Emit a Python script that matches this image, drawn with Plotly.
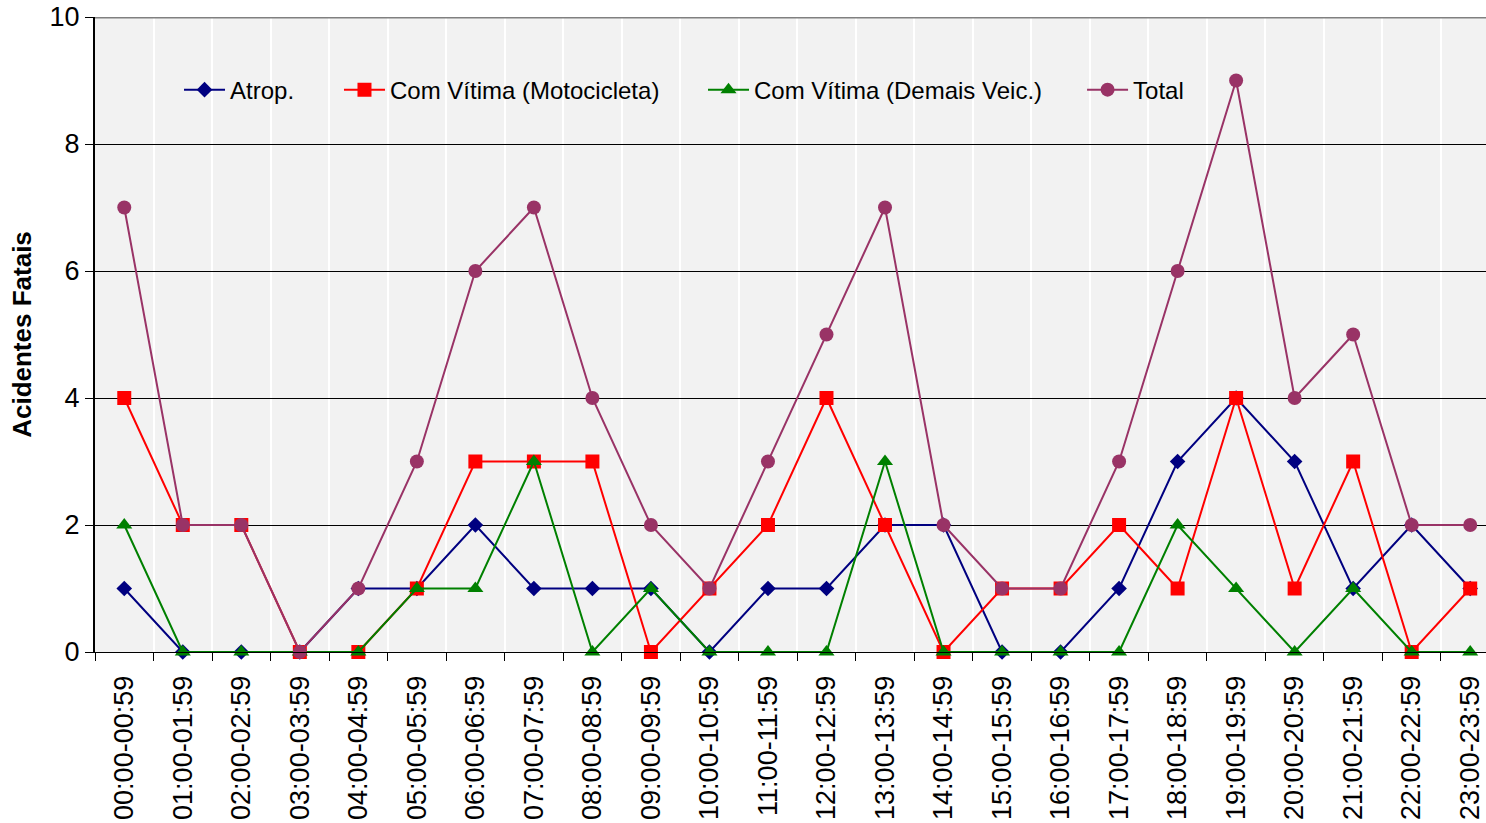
"""Acidentes fatais por faixa horária."""

import plotly.graph_objects as go

HORAS = [f"{h:02d}:00-{h:02d}:59" for h in range(24)]

ATROP = [1, 0, 0, 0, 1, 1, 2, 1, 1, 1, 0, 1, 1, 2, 2, 0, 0, 1, 3, 4, 3, 1, 2, 1]
MOTO = [4, 2, 2, 0, 0, 1, 3, 3, 3, 0, 1, 2, 4, 2, 0, 1, 1, 2, 1, 4, 1, 3, 0, 1]
DEMAIS = [2, 0, 0, 0, 0, 1, 1, 3, 0, 1, 0, 0, 0, 3, 0, 0, 0, 0, 2, 1, 0, 1, 0, 0]
TOTAL = [7, 2, 2, 0, 1, 3, 6, 7, 4, 2, 1, 3, 5, 7, 2, 1, 1, 3, 6, 9, 4, 5, 2, 2]

# name, values, color, marker symbol, marker size, legend id, legend x (paper)
SERIES = [
    ("Atrop.", ATROP, "#000080", "diamond", 12, "legend", 0.0604),
    ("Com Vítima (Motocicleta)", MOTO, "#ff0000", "square", 14, "legend2", 0.1754),
    ("Com Vítima (Demais Veic.)", DEMAIS, "#008000", "triangle-up", 14, "legend3", 0.4371),
    ("Total", TOTAL, "#993366", "circle", 14, "legend4", 0.7096),
]

FONT = "Liberation Sans, Arial, sans-serif"

fig = go.Figure()
legends = {}
for name, vals, color, symbol, size, leg, leg_x in SERIES:
    fig.add_trace(
        go.Scatter(
            x=HORAS,
            y=vals,
            name=name,
            mode="lines+markers",
            line=dict(color=color, width=2),
            marker=dict(symbol=symbol, size=size, color=color),
            cliponaxis=False,
            legend=leg,
        )
    )
    legends[leg] = dict(
        x=leg_x,
        y=0.885,
        xanchor="left",
        yanchor="middle",
        bgcolor="rgba(0,0,0,0)",
        font=dict(family=FONT, size=24, color="black"),
        itemsizing="trace",
        itemwidth=41,
    )

fig.update_xaxes(
    type="category",
    range=[-0.5, 23.27],
    tickson="boundaries",
    ticks="outside",
    ticklen=8,
    tickcolor="black",
    tickangle=-90,
    ticklabelstandoff=12,
    tickfont=dict(family=FONT, size=27, color="black"),
    showgrid=True,
    gridcolor="white",
    gridwidth=2,
    showline=True,
    linecolor="black",
    linewidth=1,
    zeroline=False,
    automargin=False,
)
fig.update_yaxes(
    range=[0, 10],
    dtick=2,
    ticks="outside",
    ticklen=8,
    tickcolor="black",
    ticklabeloverflow="allow",
    tickfont=dict(family=FONT, size=27, color="black"),
    showgrid=True,
    gridcolor="black",
    gridwidth=1,
    showline=True,
    linecolor="black",
    linewidth=2,
    zeroline=False,
    title=dict(text="<b>Acidentes Fatais</b>", font=dict(family=FONT, size=26, color="black"), standoff=10),
    automargin=False,
)

# borda superior da área do gráfico
fig.add_shape(
    type="line", xref="paper", yref="y", x0=0, x1=1, y0=10, y1=10,
    line=dict(color="#808080", width=3),
)

fig.update_layout(
    width=1486,
    height=823,
    margin=dict(l=95, r=0, t=17, b=171),
    paper_bgcolor="white",
    plot_bgcolor="#f2f2f2",
    font=dict(family=FONT, color="black"),
    showlegend=True,
    **legends,
)

# drop the default body margin so the figure fills the window exactly
fig.write_html(
    "out.html",
    config={"displayModeBar": False},
    post_script="document.body.style.margin = '0';",
)
